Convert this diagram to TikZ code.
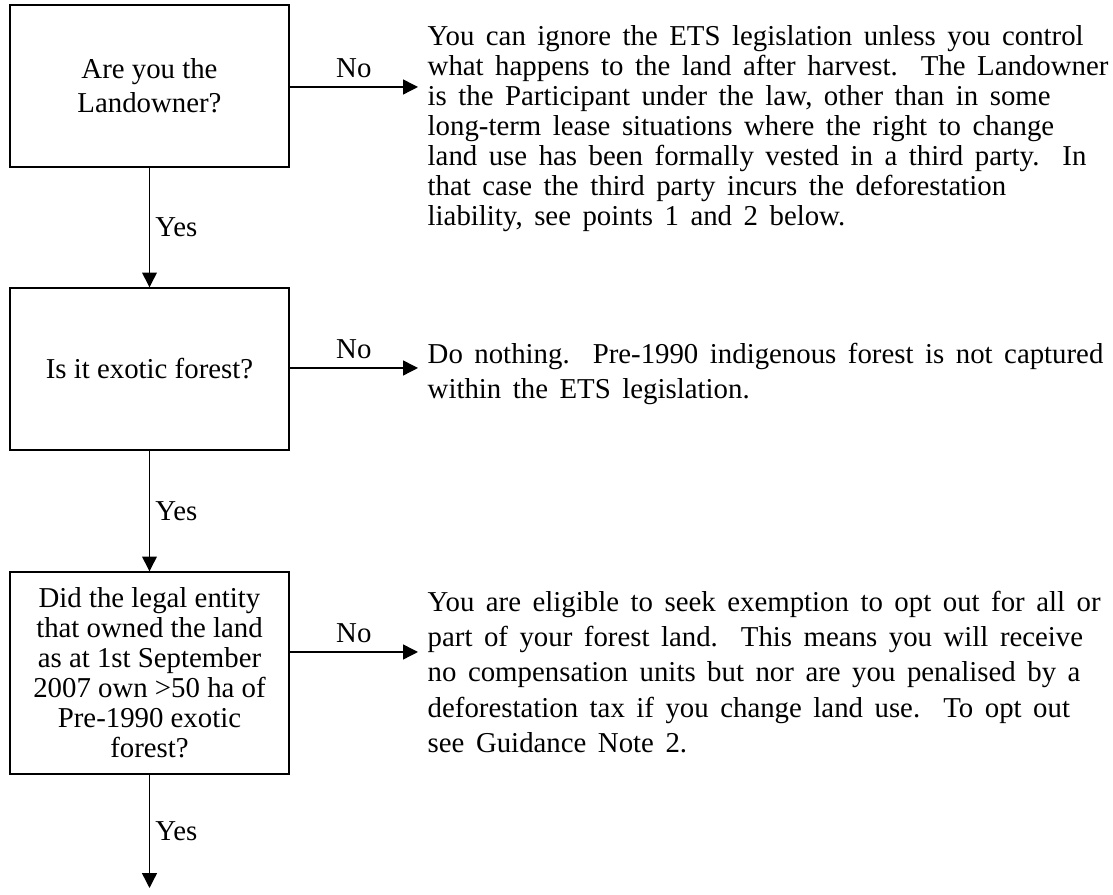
\documentclass[tikz,border=0pt]{standalone}
\usepackage{fontspec}
\setmainfont{Liberation Serif}
\usetikzlibrary{positioning,arrows.meta}
\newcommand\answerspace{\spaceskip 0.4em plus 0.1em\relax}

\begin{document}
\begin{tikzpicture}[x=0.1mm,y=-0.1mm,font=\fontsize{8.2}{8.54}\selectfont,
		question/.style={draw, rectangle, minimum width=2.79cm, minimum height=1.62cm, inner sep=0pt, align=center},
		answer/.style={anchor=north west, inner sep=0pt, align=left, execute at begin node=\answerspace},
		flow/.style={-{Triangle[length=4.2pt,width=4.2pt]}, line width=0.4pt},
		tag/.style={inner sep=1.5pt}]
				\useasboundingbox (0,0) rectangle (1113,895);
				% questions on the left
				\node[question, font=\fontsize{8.2}{9.7}\selectfont] (q1) at (149.5, 86) {Are you the\\Landowner?};
				\node[question] (q2) at (149.5, 369) {Is it exotic forest?};
				\node[question, minimum height=2.02cm] (q3) at (149.5, 673) {Did the legal entity\\that owned the land\\as at 1st September\\2007 own >50 ha of\\Pre-1990 exotic\\forest?};
				% answers on the right
				\node[answer] (a1) at (427, 25) {You can ignore the ETS legislation unless you control\\what happens to the land after harvest.\ \ The Landowner\\is the Participant under the law, other than in some\\long-term lease situations where the right to change\\land use has been formally vested in a third party.\ \ In\\that case the third party incurs the deforestation\\liability, see points 1 and 2 below.};
				\node[answer, font=\fontsize{8.2}{9.96}\selectfont] (a2) at (427, 343) {Do nothing.\ \ Pre-1990 indigenous forest is not captured\\within the ETS legislation.};
				\node[answer, font=\fontsize{8.2}{9.96}\selectfont] (a3) at (427, 591) {You are eligible to seek exemption to opt out for all or\\part of your forest land.\ \ This means you will receive\\no compensation units but nor are you penalised by a\\deforestation tax if you change land use.\ \ To opt out\\see Guidance Note 2.};
				\coordinate (e1) at (418, 87);
				\coordinate (e2) at (418, 368);
				\coordinate (e3) at (418, 652);
				\coordinate (e4) at (149.5, 888);
				\draw[flow] (q1.east |- e1) -- (e1) node[midway, above, inner sep=2.5pt] {No};
				\draw[flow] (q2.east |- e2) -- (e2) node[midway, above, inner sep=2.5pt] {No};
				\draw[flow] (q3.east |- e3) -- (e3) node[midway, above, inner sep=2.5pt] {No};
				\draw[flow] (q1) -- (q2) node[midway, right, tag] {Yes};
				\draw[flow] (q2) -- (q3) node[midway, right, tag] {Yes};
				\draw[flow] (q3) -- (e4) node[midway, right, tag] {Yes};
				\end{tikzpicture}
\end{document}
